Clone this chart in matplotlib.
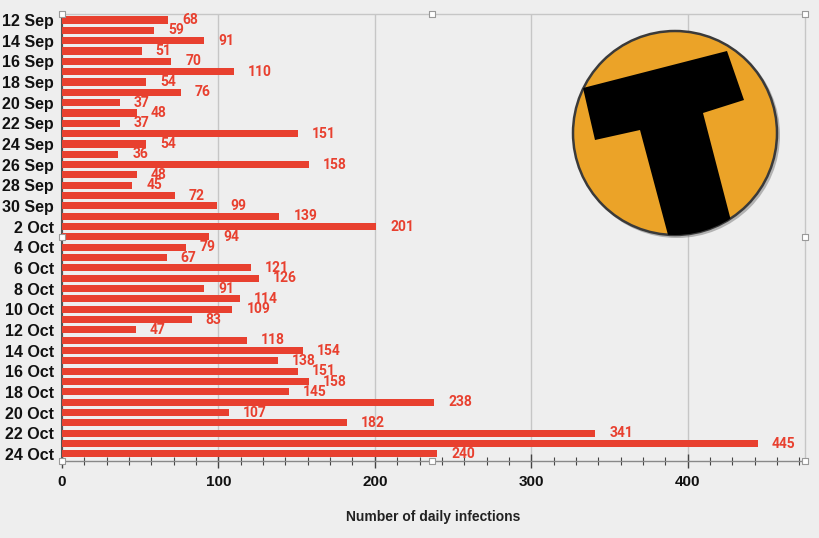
import matplotlib
matplotlib.use("Agg")
import matplotlib.pyplot as plt
from matplotlib.patches import Circle, Polygon
from matplotlib.ticker import MultipleLocator

# ── data ──────────────────────────────────────────────────────────────────
DATES = (
    [f"{d} Sep" for d in range(12, 31)]
    + [f"{d} Oct" for d in range(1, 25)]
)
INFECTIONS = [
    68, 59, 91, 51, 70, 110, 54, 76, 37, 48, 37, 151, 54, 36, 158, 48, 45, 72, 99,
    139, 201, 94, 79, 67, 121, 126, 91, 114, 109, 83, 47, 118, 154, 138, 151, 158,
    145, 238, 107, 182, 341, 445, 240,
]
X_TICKS = [0, 100, 200, 300, 400]
X_LABEL = "Number of daily infections"

BG = "#eeeeee"
RED = "#e8402f"
GRID = "#c6c6c6"

fig = plt.figure(figsize=(8.2, 5.38), dpi=100, facecolor=BG)
ax = fig.add_axes([62 / 820, 1 - 461 / 538, (805 - 62) / 820, (461 - 14) / 538])
ax.set_facecolor(BG)

ypos = list(range(len(DATES)))
ax.barh(ypos, INFECTIONS, height=0.68, color=RED, zorder=3)

for y, v in zip(ypos, INFECTIONS):
    ax.annotate(str(v), (v, y), xytext=(10, 0), textcoords="offset points",
                va="center", ha="left", color=RED, fontsize=10,
                fontweight="bold", family="Roboto", zorder=4)

ax.set_ylim(len(DATES) - 1 + 0.68, -0.58)
ax.set_xlim(0, 475)

ax.set_yticks(ypos[::2])
ax.set_yticklabels(DATES[::2], fontsize=11.5, fontweight="bold",
                   family="Liberation Sans", color="#111111")
ax.tick_params(axis="y", length=0, pad=6)

ax.set_xticks(X_TICKS)
ax.set_xticklabels([str(t) for t in X_TICKS], fontsize=11, fontweight="bold",
                   family="Liberation Sans", color="#111111")
ax.xaxis.set_minor_locator(MultipleLocator(100 / 7))
ax.tick_params(axis="x", which="major", direction="inout", length=10, width=1,
               color="#444444", pad=5)
ax.tick_params(axis="x", which="minor", direction="inout", length=6, width=0.8,
               color="#444444")

ax.grid(axis="x", which="major", color=GRID, lw=1, zorder=0)
ax.set_axisbelow(True)

for side in ("top", "right"):
    ax.spines[side].set_color(GRID)
    ax.spines[side].set_linewidth(1)
ax.spines["left"].set_color("#555555")
ax.spines["left"].set_linewidth(1.5)
ax.spines["bottom"].set_color("#888888")
ax.spines["bottom"].set_linewidth(1)

ax.set_xlabel(X_LABEL, fontsize=10, fontweight="bold", family="Liberation Sans",
              color="#222222", labelpad=15)

# ── overlay: selection handles + logo, in figure pixel coords ──
ov = fig.add_axes([0, 0, 1, 1], facecolor="none")
ov.set_xlim(0, 820)
ov.set_ylim(538, 0)
ov.axis("off")

handles = [(62, 14), (432, 14), (805, 14), (62, 237), (805, 237),
           (62, 461), (432, 461), (805, 461)]
ov.scatter([h[0] for h in handles], [h[1] for h in handles], marker="s", s=22,
           facecolor="white", edgecolor="#999999", linewidths=0.8, zorder=5)

shadow = Circle((677, 135), 103, facecolor="#777777", edgecolor="none",
                alpha=0.5, zorder=2)
ov.add_patch(shadow)
disc = Circle((675, 133), 102, facecolor="#eba328", edgecolor="#3a3a3a",
              lw=1.8, zorder=3)
ov.add_patch(disc)
tee = Polygon([(583, 88), (727, 51), (744, 100), (703, 113), (736, 240),
               (672, 250), (640, 130), (595, 140)],
              closed=True, facecolor="black", edgecolor="none", zorder=4)
ov.add_patch(tee)
tee.set_clip_path(disc)

fig.savefig("out.png", dpi=100, facecolor=BG)
